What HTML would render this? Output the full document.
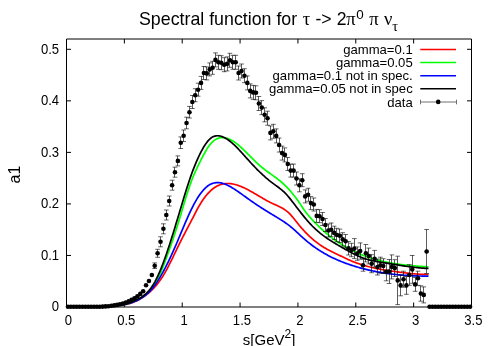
<!DOCTYPE html>
<html><head><meta charset="utf-8"><title>Spectral function</title>
<style>html,body{margin:0;padding:0;background:#fff;overflow:hidden}body{width:494px;height:346px;font-family:"Liberation Sans",sans-serif}</style></head>
<body>
<svg width="494" height="346" viewBox="0 0 494 346" style="display:block;will-change:transform">
<rect width="494" height="346" fill="#fff"/>
<g stroke="#000" stroke-width="1" fill="none">
<path d="M66.5,39.0 H471.5 V307.0 H66.5 Z"/>
<path d="M66.50,307.0 v-4.5 M66.50,39.0 v4.5"/>
<path d="M124.36,307.0 v-4.5 M124.36,39.0 v4.5"/>
<path d="M182.21,307.0 v-4.5 M182.21,39.0 v4.5"/>
<path d="M240.07,307.0 v-4.5 M240.07,39.0 v4.5"/>
<path d="M297.93,307.0 v-4.5 M297.93,39.0 v4.5"/>
<path d="M355.79,307.0 v-4.5 M355.79,39.0 v4.5"/>
<path d="M413.64,307.0 v-4.5 M413.64,39.0 v4.5"/>
<path d="M471.50,307.0 v-4.5 M471.50,39.0 v4.5"/>
<path d="M66.5,307.00 h4.5 M471.5,307.00 h-4.5"/>
<path d="M66.5,255.46 h4.5 M471.5,255.46 h-4.5"/>
<path d="M66.5,203.92 h4.5 M471.5,203.92 h-4.5"/>
<path d="M66.5,152.38 h4.5 M471.5,152.38 h-4.5"/>
<path d="M66.5,100.85 h4.5 M471.5,100.85 h-4.5"/>
<path d="M66.5,49.31 h4.5 M471.5,49.31 h-4.5"/>
</g>
<g fill="none" stroke-width="1.7" stroke-linejoin="round" stroke-linecap="butt">
<path stroke="#ff0000" d="M100.00,306.62 L101.00,306.58 L102.00,306.55 L103.00,306.52 L104.00,306.49 L105.00,306.46 L106.00,306.43 L107.00,306.40 L108.00,306.37 L109.00,306.33 L110.00,306.29 L111.00,306.25 L112.00,306.20 L113.00,306.14 L114.00,306.08 L115.00,306.01 L116.00,305.93 L117.00,305.84 L118.00,305.74 L119.00,305.62 L120.00,305.50 L121.00,305.36 L122.00,305.21 L123.00,305.04 L124.00,304.86 L125.00,304.66 L126.00,304.45 L127.00,304.21 L128.00,303.96 L129.00,303.68 L130.00,303.39 L131.00,303.07 L132.00,302.73 L133.00,302.37 L134.00,301.99 L135.00,301.57 L136.00,301.14 L137.00,300.67 L138.00,300.18 L139.00,299.66 L140.00,299.11 L141.00,298.53 L142.00,297.92 L143.00,297.28 L144.00,296.61 L145.00,295.90 L146.00,295.15 L147.00,294.38 L148.00,293.56 L149.00,292.71 L150.00,291.82 L151.00,290.89 L152.00,289.92 L153.00,288.91 L154.00,287.86 L155.00,286.75 L156.00,285.60 L157.00,284.40 L158.00,283.14 L159.00,281.82 L160.00,280.45 L161.00,279.02 L162.00,277.53 L163.00,275.97 L164.00,274.35 L165.00,272.65 L166.00,270.89 L167.00,269.06 L168.00,267.17 L169.00,265.23 L170.00,263.24 L171.00,261.21 L172.00,259.16 L173.00,257.08 L174.00,254.99 L175.00,252.90 L176.00,250.80 L177.00,248.72 L178.00,246.65 L179.00,244.61 L180.00,242.59 L181.00,240.60 L182.00,238.64 L183.00,236.69 L184.00,234.75 L185.00,232.83 L186.00,230.92 L187.00,229.02 L188.00,227.12 L189.00,225.21 L190.00,223.30 L191.00,221.39 L192.00,219.46 L193.00,217.52 L194.00,215.56 L195.00,213.60 L196.00,211.66 L197.00,209.75 L198.00,207.92 L199.00,206.15 L200.00,204.46 L201.00,202.83 L202.00,201.28 L203.00,199.79 L204.00,198.37 L205.00,197.03 L206.00,195.75 L207.00,194.54 L208.00,193.40 L209.00,192.32 L210.00,191.32 L211.00,190.38 L212.00,189.51 L213.00,188.70 L214.00,187.96 L215.00,187.28 L216.00,186.67 L217.00,186.11 L218.00,185.61 L219.00,185.17 L220.00,184.79 L221.00,184.46 L222.00,184.17 L223.00,183.94 L224.00,183.76 L225.00,183.63 L226.00,183.54 L227.00,183.49 L228.00,183.48 L229.00,183.52 L230.00,183.59 L231.00,183.70 L232.00,183.85 L233.00,184.03 L234.00,184.24 L235.00,184.49 L236.00,184.76 L237.00,185.06 L238.00,185.38 L239.00,185.73 L240.00,186.11 L241.00,186.50 L242.00,186.92 L243.00,187.36 L244.00,187.82 L245.00,188.29 L246.00,188.78 L247.00,189.29 L248.00,189.81 L249.00,190.34 L250.00,190.89 L251.00,191.44 L252.00,192.01 L253.00,192.58 L254.00,193.16 L255.00,193.74 L256.00,194.33 L257.00,194.92 L258.00,195.51 L259.00,196.10 L260.00,196.69 L261.00,197.28 L262.00,197.86 L263.00,198.44 L264.00,199.02 L265.00,199.58 L266.00,200.14 L267.00,200.69 L268.00,201.23 L269.00,201.75 L270.00,202.27 L271.00,202.76 L272.00,203.24 L273.00,203.71 L274.00,204.16 L275.00,204.61 L276.00,205.05 L277.00,205.50 L278.00,205.96 L279.00,206.43 L280.00,206.92 L281.00,207.44 L282.00,207.98 L283.00,208.57 L284.00,209.19 L285.00,209.87 L286.00,210.59 L287.00,211.37 L288.00,212.22 L289.00,213.13 L290.00,214.12 L291.00,215.19 L292.00,216.32 L293.00,217.50 L294.00,218.73 L295.00,219.98 L296.00,221.25 L297.00,222.52 L298.00,223.78 L299.00,225.01 L300.00,226.22 L301.00,227.39 L302.00,228.54 L303.00,229.67 L304.00,230.76 L305.00,231.83 L306.00,232.88 L307.00,233.89 L308.00,234.88 L309.00,235.85 L310.00,236.79 L311.00,237.70 L312.00,238.59 L313.00,239.46 L314.00,240.30 L315.00,241.11 L316.00,241.90 L317.00,242.67 L318.00,243.42 L319.00,244.14 L320.00,244.84 L321.00,245.51 L322.00,246.17 L323.00,246.80 L324.00,247.41 L325.00,248.01 L326.00,248.59 L327.00,249.15 L328.00,249.69 L329.00,250.23 L330.00,250.75 L331.00,251.26 L332.00,251.77 L333.00,252.26 L334.00,252.75 L335.00,253.23 L336.00,253.72 L337.00,254.19 L338.00,254.67 L339.00,255.15 L340.00,255.63 L341.00,256.11 L342.00,256.59 L343.00,257.07 L344.00,257.55 L345.00,258.03 L346.00,258.51 L347.00,258.98 L348.00,259.44 L349.00,259.89 L350.00,260.33 L351.00,260.76 L352.00,261.18 L353.00,261.59 L354.00,261.99 L355.00,262.37 L356.00,262.75 L357.00,263.11 L358.00,263.47 L359.00,263.82 L360.00,264.15 L361.00,264.48 L362.00,264.79 L363.00,265.10 L364.00,265.40 L365.00,265.69 L366.00,265.98 L367.00,266.25 L368.00,266.52 L369.00,266.78 L370.00,267.03 L371.00,267.27 L372.00,267.51 L373.00,267.74 L374.00,267.96 L375.00,268.18 L376.00,268.39 L377.00,268.60 L378.00,268.80 L379.00,268.99 L380.00,269.18 L381.00,269.36 L382.00,269.54 L383.00,269.72 L384.00,269.89 L385.00,270.06 L386.00,270.22 L387.00,270.38 L388.00,270.53 L389.00,270.69 L390.00,270.84 L391.00,270.98 L392.00,271.13 L393.00,271.27 L394.00,271.41 L395.00,271.55 L396.00,271.68 L397.00,271.82 L398.00,271.95 L399.00,272.08 L400.00,272.22 L401.00,272.35 L402.00,272.48 L403.00,272.60 L404.00,272.73 L405.00,272.85 L406.00,272.97 L407.00,273.09 L408.00,273.21 L409.00,273.32 L410.00,273.43 L411.00,273.53 L412.00,273.63 L413.00,273.73 L414.00,273.82 L415.00,273.91 L416.00,273.99 L417.00,274.07 L418.00,274.14 L419.00,274.20 L420.00,274.26 L421.00,274.31 L422.00,274.36 L423.00,274.40 L424.00,274.43 L425.00,274.46 L426.00,274.48 L427.00,274.49 L428.00,274.49 L428.50,274.49"/>
<path stroke="#00ff00" d="M100.00,306.59 L101.00,306.61 L102.00,306.62 L103.00,306.63 L104.00,306.63 L105.00,306.63 L106.00,306.62 L107.00,306.60 L108.00,306.57 L109.00,306.54 L110.00,306.49 L111.00,306.44 L112.00,306.38 L113.00,306.31 L114.00,306.22 L115.00,306.13 L116.00,306.02 L117.00,305.90 L118.00,305.77 L119.00,305.63 L120.00,305.47 L121.00,305.30 L122.00,305.11 L123.00,304.91 L124.00,304.69 L125.00,304.46 L126.00,304.21 L127.00,303.94 L128.00,303.65 L129.00,303.35 L130.00,303.03 L131.00,302.69 L132.00,302.33 L133.00,301.95 L134.00,301.55 L135.00,301.13 L136.00,300.69 L137.00,300.22 L138.00,299.74 L139.00,299.23 L140.00,298.68 L141.00,298.11 L142.00,297.50 L143.00,296.84 L144.00,296.13 L145.00,295.37 L146.00,294.54 L147.00,293.65 L148.00,292.70 L149.00,291.66 L150.00,290.55 L151.00,289.35 L152.00,288.06 L153.00,286.68 L154.00,285.19 L155.00,283.60 L156.00,281.90 L157.00,280.09 L158.00,278.17 L159.00,276.15 L160.00,274.02 L161.00,271.78 L162.00,269.44 L163.00,267.00 L164.00,264.45 L165.00,261.79 L166.00,259.06 L167.00,256.30 L168.00,253.52 L169.00,250.71 L170.00,247.89 L171.00,245.03 L172.00,242.14 L173.00,239.21 L174.00,236.23 L175.00,233.20 L176.00,230.11 L177.00,226.97 L178.00,223.77 L179.00,220.52 L180.00,217.22 L181.00,213.90 L182.00,210.55 L183.00,207.19 L184.00,203.84 L185.00,200.52 L186.00,197.25 L187.00,194.04 L188.00,190.90 L189.00,187.87 L190.00,184.94 L191.00,182.15 L192.00,179.51 L193.00,177.00 L194.00,174.62 L195.00,172.35 L196.00,170.16 L197.00,168.03 L198.00,165.95 L199.00,163.89 L200.00,161.85 L201.00,159.83 L202.00,157.86 L203.00,155.92 L204.00,154.05 L205.00,152.24 L206.00,150.51 L207.00,148.87 L208.00,147.34 L209.00,145.91 L210.00,144.60 L211.00,143.43 L212.00,142.37 L213.00,141.43 L214.00,140.60 L215.00,139.89 L216.00,139.28 L217.00,138.76 L218.00,138.34 L219.00,138.02 L220.00,137.78 L221.00,137.62 L222.00,137.54 L223.00,137.54 L224.00,137.61 L225.00,137.75 L226.00,137.96 L227.00,138.23 L228.00,138.56 L229.00,138.96 L230.00,139.41 L231.00,139.91 L232.00,140.47 L233.00,141.07 L234.00,141.72 L235.00,142.42 L236.00,143.15 L237.00,143.92 L238.00,144.73 L239.00,145.57 L240.00,146.43 L241.00,147.33 L242.00,148.25 L243.00,149.19 L244.00,150.14 L245.00,151.12 L246.00,152.10 L247.00,153.10 L248.00,154.11 L249.00,155.12 L250.00,156.13 L251.00,157.14 L252.00,158.15 L253.00,159.15 L254.00,160.14 L255.00,161.12 L256.00,162.09 L257.00,163.04 L258.00,163.97 L259.00,164.88 L260.00,165.76 L261.00,166.62 L262.00,167.45 L263.00,168.25 L264.00,169.04 L265.00,169.81 L266.00,170.56 L267.00,171.30 L268.00,172.02 L269.00,172.74 L270.00,173.46 L271.00,174.17 L272.00,174.88 L273.00,175.60 L274.00,176.32 L275.00,177.05 L276.00,177.79 L277.00,178.54 L278.00,179.31 L279.00,180.10 L280.00,180.91 L281.00,181.74 L282.00,182.61 L283.00,183.50 L284.00,184.42 L285.00,185.37 L286.00,186.36 L287.00,187.38 L288.00,188.43 L289.00,189.52 L290.00,190.64 L291.00,191.79 L292.00,192.97 L293.00,194.19 L294.00,195.44 L295.00,196.72 L296.00,198.03 L297.00,199.38 L298.00,200.76 L299.00,202.18 L300.00,203.64 L301.00,205.14 L302.00,206.68 L303.00,208.21 L304.00,209.69 L305.00,211.10 L306.00,212.44 L307.00,213.72 L308.00,214.95 L309.00,216.13 L310.00,217.28 L311.00,218.40 L312.00,219.50 L313.00,220.58 L314.00,221.65 L315.00,222.69 L316.00,223.72 L317.00,224.73 L318.00,225.72 L319.00,226.69 L320.00,227.64 L321.00,228.58 L322.00,229.50 L323.00,230.41 L324.00,231.29 L325.00,232.16 L326.00,233.02 L327.00,233.86 L328.00,234.68 L329.00,235.49 L330.00,236.28 L331.00,237.06 L332.00,237.83 L333.00,238.57 L334.00,239.31 L335.00,240.03 L336.00,240.74 L337.00,241.43 L338.00,242.11 L339.00,242.78 L340.00,243.43 L341.00,244.07 L342.00,244.70 L343.00,245.32 L344.00,245.92 L345.00,246.51 L346.00,247.09 L347.00,247.66 L348.00,248.21 L349.00,248.76 L350.00,249.29 L351.00,249.81 L352.00,250.32 L353.00,250.82 L354.00,251.31 L355.00,251.79 L356.00,252.26 L357.00,252.71 L358.00,253.16 L359.00,253.59 L360.00,254.02 L361.00,254.44 L362.00,254.84 L363.00,255.24 L364.00,255.63 L365.00,256.00 L366.00,256.37 L367.00,256.73 L368.00,257.08 L369.00,257.42 L370.00,257.76 L371.00,258.08 L372.00,258.39 L373.00,258.70 L374.00,259.00 L375.00,259.29 L376.00,259.58 L377.00,259.85 L378.00,260.12 L379.00,260.38 L380.00,260.63 L381.00,260.88 L382.00,261.12 L383.00,261.35 L384.00,261.57 L385.00,261.79 L386.00,262.00 L387.00,262.21 L388.00,262.41 L389.00,262.60 L390.00,262.79 L391.00,262.97 L392.00,263.15 L393.00,263.32 L394.00,263.48 L395.00,263.64 L396.00,263.80 L397.00,263.95 L398.00,264.09 L399.00,264.23 L400.00,264.36 L401.00,264.50 L402.00,264.62 L403.00,264.74 L404.00,264.86 L405.00,264.98 L406.00,265.09 L407.00,265.19 L408.00,265.30 L409.00,265.40 L410.00,265.49 L411.00,265.59 L412.00,265.68 L413.00,265.77 L414.00,265.85 L415.00,265.93 L416.00,266.01 L417.00,266.09 L418.00,266.17 L419.00,266.24 L420.00,266.32 L421.00,266.39 L422.00,266.45 L423.00,266.52 L424.00,266.59 L425.00,266.65 L426.00,266.72 L427.00,266.78 L428.00,266.84 L428.50,266.87"/>
<path stroke="#0000ff" d="M100.00,306.60 L101.00,306.61 L102.00,306.61 L103.00,306.61 L104.00,306.60 L105.00,306.59 L106.00,306.58 L107.00,306.55 L108.00,306.52 L109.00,306.48 L110.00,306.44 L111.00,306.39 L112.00,306.32 L113.00,306.25 L114.00,306.17 L115.00,306.08 L116.00,305.98 L117.00,305.86 L118.00,305.74 L119.00,305.60 L120.00,305.45 L121.00,305.29 L122.00,305.11 L123.00,304.92 L124.00,304.71 L125.00,304.49 L126.00,304.25 L127.00,304.00 L128.00,303.73 L129.00,303.44 L130.00,303.14 L131.00,302.82 L132.00,302.47 L133.00,302.11 L134.00,301.73 L135.00,301.32 L136.00,300.88 L137.00,300.42 L138.00,299.93 L139.00,299.40 L140.00,298.85 L141.00,298.26 L142.00,297.63 L143.00,296.97 L144.00,296.27 L145.00,295.53 L146.00,294.75 L147.00,293.91 L148.00,293.03 L149.00,292.09 L150.00,291.08 L151.00,290.00 L152.00,288.85 L153.00,287.63 L154.00,286.35 L155.00,285.01 L156.00,283.60 L157.00,282.13 L158.00,280.60 L159.00,279.01 L160.00,277.37 L161.00,275.67 L162.00,273.92 L163.00,272.12 L164.00,270.27 L165.00,268.37 L166.00,266.43 L167.00,264.44 L168.00,262.41 L169.00,260.34 L170.00,258.22 L171.00,256.07 L172.00,253.89 L173.00,251.67 L174.00,249.41 L175.00,247.13 L176.00,244.81 L177.00,242.47 L178.00,240.10 L179.00,237.72 L180.00,235.33 L181.00,232.94 L182.00,230.55 L183.00,228.17 L184.00,225.80 L185.00,223.45 L186.00,221.12 L187.00,218.83 L188.00,216.58 L189.00,214.37 L190.00,212.21 L191.00,210.10 L192.00,208.06 L193.00,206.09 L194.00,204.18 L195.00,202.35 L196.00,200.59 L197.00,198.91 L198.00,197.30 L199.00,195.77 L200.00,194.32 L201.00,192.95 L202.00,191.67 L203.00,190.47 L204.00,189.35 L205.00,188.32 L206.00,187.38 L207.00,186.53 L208.00,185.77 L209.00,185.10 L210.00,184.52 L211.00,184.02 L212.00,183.60 L213.00,183.26 L214.00,182.99 L215.00,182.79 L216.00,182.66 L217.00,182.60 L218.00,182.60 L219.00,182.66 L220.00,182.78 L221.00,182.95 L222.00,183.18 L223.00,183.45 L224.00,183.77 L225.00,184.14 L226.00,184.54 L227.00,184.98 L228.00,185.46 L229.00,185.97 L230.00,186.51 L231.00,187.08 L232.00,187.67 L233.00,188.28 L234.00,188.90 L235.00,189.55 L236.00,190.21 L237.00,190.88 L238.00,191.56 L239.00,192.25 L240.00,192.95 L241.00,193.66 L242.00,194.38 L243.00,195.10 L244.00,195.82 L245.00,196.54 L246.00,197.27 L247.00,197.99 L248.00,198.71 L249.00,199.42 L250.00,200.14 L251.00,200.84 L252.00,201.54 L253.00,202.23 L254.00,202.91 L255.00,203.59 L256.00,204.26 L257.00,204.93 L258.00,205.59 L259.00,206.24 L260.00,206.89 L261.00,207.54 L262.00,208.18 L263.00,208.82 L264.00,209.45 L265.00,210.08 L266.00,210.70 L267.00,211.32 L268.00,211.94 L269.00,212.55 L270.00,213.16 L271.00,213.77 L272.00,214.37 L273.00,214.97 L274.00,215.57 L275.00,216.17 L276.00,216.77 L277.00,217.38 L278.00,217.99 L279.00,218.61 L280.00,219.23 L281.00,219.86 L282.00,220.50 L283.00,221.16 L284.00,221.83 L285.00,222.51 L286.00,223.21 L287.00,223.93 L288.00,224.66 L289.00,225.42 L290.00,226.20 L291.00,227.00 L292.00,227.82 L293.00,228.67 L294.00,229.54 L295.00,230.43 L296.00,231.34 L297.00,232.27 L298.00,233.20 L299.00,234.15 L300.00,235.09 L301.00,236.02 L302.00,236.94 L303.00,237.85 L304.00,238.73 L305.00,239.60 L306.00,240.46 L307.00,241.29 L308.00,242.11 L309.00,242.91 L310.00,243.70 L311.00,244.47 L312.00,245.23 L313.00,245.97 L314.00,246.69 L315.00,247.40 L316.00,248.10 L317.00,248.78 L318.00,249.45 L319.00,250.10 L320.00,250.74 L321.00,251.36 L322.00,251.97 L323.00,252.57 L324.00,253.16 L325.00,253.73 L326.00,254.30 L327.00,254.85 L328.00,255.39 L329.00,255.91 L330.00,256.43 L331.00,256.93 L332.00,257.43 L333.00,257.91 L334.00,258.38 L335.00,258.84 L336.00,259.30 L337.00,259.74 L338.00,260.17 L339.00,260.60 L340.00,261.02 L341.00,261.42 L342.00,261.82 L343.00,262.21 L344.00,262.60 L345.00,262.97 L346.00,263.34 L347.00,263.70 L348.00,264.06 L349.00,264.41 L350.00,264.75 L351.00,265.08 L352.00,265.41 L353.00,265.73 L354.00,266.05 L355.00,266.36 L356.00,266.67 L357.00,266.97 L358.00,267.26 L359.00,267.55 L360.00,267.83 L361.00,268.11 L362.00,268.38 L363.00,268.64 L364.00,268.90 L365.00,269.16 L366.00,269.41 L367.00,269.65 L368.00,269.89 L369.00,270.12 L370.00,270.35 L371.00,270.57 L372.00,270.79 L373.00,271.00 L374.00,271.20 L375.00,271.41 L376.00,271.60 L377.00,271.79 L378.00,271.98 L379.00,272.16 L380.00,272.34 L381.00,272.51 L382.00,272.68 L383.00,272.84 L384.00,273.00 L385.00,273.15 L386.00,273.30 L387.00,273.45 L388.00,273.59 L389.00,273.72 L390.00,273.86 L391.00,273.98 L392.00,274.11 L393.00,274.22 L394.00,274.34 L395.00,274.45 L396.00,274.56 L397.00,274.66 L398.00,274.76 L399.00,274.85 L400.00,274.94 L401.00,275.03 L402.00,275.11 L403.00,275.19 L404.00,275.27 L405.00,275.34 L406.00,275.40 L407.00,275.47 L408.00,275.53 L409.00,275.59 L410.00,275.64 L411.00,275.69 L412.00,275.74 L413.00,275.78 L414.00,275.82 L415.00,275.86 L416.00,275.90 L417.00,275.93 L418.00,275.95 L419.00,275.98 L420.00,276.00 L421.00,276.02 L422.00,276.04 L423.00,276.05 L424.00,276.06 L425.00,276.07 L426.00,276.07 L427.00,276.08 L428.00,276.08 L428.50,276.08"/>
<path stroke="#000000" d="M100.00,306.59 L101.00,306.61 L102.00,306.62 L103.00,306.63 L104.00,306.62 L105.00,306.62 L106.00,306.60 L107.00,306.57 L108.00,306.54 L109.00,306.50 L110.00,306.44 L111.00,306.38 L112.00,306.30 L113.00,306.22 L114.00,306.12 L115.00,306.01 L116.00,305.89 L117.00,305.75 L118.00,305.61 L119.00,305.44 L120.00,305.27 L121.00,305.08 L122.00,304.87 L123.00,304.65 L124.00,304.41 L125.00,304.15 L126.00,303.88 L127.00,303.59 L128.00,303.28 L129.00,302.95 L130.00,302.61 L131.00,302.24 L132.00,301.85 L133.00,301.45 L134.00,301.02 L135.00,300.57 L136.00,300.10 L137.00,299.61 L138.00,299.09 L139.00,298.55 L140.00,297.98 L141.00,297.37 L142.00,296.72 L143.00,296.02 L144.00,295.27 L145.00,294.45 L146.00,293.57 L147.00,292.61 L148.00,291.57 L149.00,290.45 L150.00,289.24 L151.00,287.93 L152.00,286.52 L153.00,285.00 L154.00,283.36 L155.00,281.60 L156.00,279.72 L157.00,277.72 L158.00,275.60 L159.00,273.38 L160.00,271.05 L161.00,268.62 L162.00,266.10 L163.00,263.49 L164.00,260.80 L165.00,258.03 L166.00,255.19 L167.00,252.28 L168.00,249.30 L169.00,246.27 L170.00,243.19 L171.00,240.05 L172.00,236.88 L173.00,233.66 L174.00,230.42 L175.00,227.14 L176.00,223.85 L177.00,220.53 L178.00,217.21 L179.00,213.88 L180.00,210.54 L181.00,207.21 L182.00,203.89 L183.00,200.58 L184.00,197.28 L185.00,194.02 L186.00,190.79 L187.00,187.61 L188.00,184.49 L189.00,181.45 L190.00,178.48 L191.00,175.61 L192.00,172.83 L193.00,170.15 L194.00,167.57 L195.00,165.08 L196.00,162.68 L197.00,160.36 L198.00,158.13 L199.00,155.99 L200.00,153.92 L201.00,151.94 L202.00,150.05 L203.00,148.25 L204.00,146.55 L205.00,144.97 L206.00,143.49 L207.00,142.14 L208.00,140.90 L209.00,139.80 L210.00,138.84 L211.00,138.02 L212.00,137.34 L213.00,136.79 L214.00,136.36 L215.00,136.06 L216.00,135.86 L217.00,135.76 L218.00,135.77 L219.00,135.86 L220.00,136.03 L221.00,136.29 L222.00,136.60 L223.00,136.99 L224.00,137.44 L225.00,137.94 L226.00,138.51 L227.00,139.12 L228.00,139.79 L229.00,140.51 L230.00,141.27 L231.00,142.08 L232.00,142.92 L233.00,143.81 L234.00,144.73 L235.00,145.68 L236.00,146.66 L237.00,147.66 L238.00,148.69 L239.00,149.74 L240.00,150.81 L241.00,151.90 L242.00,152.99 L243.00,154.10 L244.00,155.21 L245.00,156.33 L246.00,157.45 L247.00,158.57 L248.00,159.69 L249.00,160.80 L250.00,161.90 L251.00,162.99 L252.00,164.06 L253.00,165.13 L254.00,166.19 L255.00,167.23 L256.00,168.26 L257.00,169.28 L258.00,170.28 L259.00,171.27 L260.00,172.25 L261.00,173.21 L262.00,174.15 L263.00,175.08 L264.00,175.99 L265.00,176.89 L266.00,177.77 L267.00,178.63 L268.00,179.47 L269.00,180.29 L270.00,181.10 L271.00,181.88 L272.00,182.65 L273.00,183.39 L274.00,184.12 L275.00,184.85 L276.00,185.57 L277.00,186.29 L278.00,187.03 L279.00,187.78 L280.00,188.55 L281.00,189.35 L282.00,190.19 L283.00,191.06 L284.00,191.97 L285.00,192.94 L286.00,193.96 L287.00,195.05 L288.00,196.19 L289.00,197.38 L290.00,198.61 L291.00,199.88 L292.00,201.17 L293.00,202.47 L294.00,203.78 L295.00,205.09 L296.00,206.40 L297.00,207.71 L298.00,209.01 L299.00,210.31 L300.00,211.60 L301.00,212.88 L302.00,214.15 L303.00,215.40 L304.00,216.64 L305.00,217.86 L306.00,219.06 L307.00,220.24 L308.00,221.39 L309.00,222.52 L310.00,223.62 L311.00,224.69 L312.00,225.73 L313.00,226.74 L314.00,227.72 L315.00,228.67 L316.00,229.59 L317.00,230.49 L318.00,231.36 L319.00,232.21 L320.00,233.04 L321.00,233.84 L322.00,234.62 L323.00,235.38 L324.00,236.12 L325.00,236.85 L326.00,237.56 L327.00,238.25 L328.00,238.93 L329.00,239.59 L330.00,240.24 L331.00,240.88 L332.00,241.51 L333.00,242.13 L334.00,242.74 L335.00,243.34 L336.00,243.94 L337.00,244.53 L338.00,245.12 L339.00,245.70 L340.00,246.29 L341.00,246.87 L342.00,247.45 L343.00,248.02 L344.00,248.60 L345.00,249.17 L346.00,249.73 L347.00,250.29 L348.00,250.85 L349.00,251.39 L350.00,251.93 L351.00,252.47 L352.00,252.99 L353.00,253.50 L354.00,254.01 L355.00,254.50 L356.00,254.98 L357.00,255.45 L358.00,255.91 L359.00,256.35 L360.00,256.78 L361.00,257.19 L362.00,257.59 L363.00,257.97 L364.00,258.33 L365.00,258.68 L366.00,259.00 L367.00,259.31 L368.00,259.60 L369.00,259.87 L370.00,260.13 L371.00,260.37 L372.00,260.60 L373.00,260.82 L374.00,261.02 L375.00,261.22 L376.00,261.41 L377.00,261.59 L378.00,261.76 L379.00,261.93 L380.00,262.10 L381.00,262.26 L382.00,262.42 L383.00,262.59 L384.00,262.75 L385.00,262.91 L386.00,263.08 L387.00,263.24 L388.00,263.41 L389.00,263.57 L390.00,263.74 L391.00,263.90 L392.00,264.07 L393.00,264.23 L394.00,264.39 L395.00,264.55 L396.00,264.71 L397.00,264.87 L398.00,265.03 L399.00,265.19 L400.00,265.34 L401.00,265.50 L402.00,265.65 L403.00,265.80 L404.00,265.94 L405.00,266.09 L406.00,266.23 L407.00,266.37 L408.00,266.51 L409.00,266.64 L410.00,266.77 L411.00,266.90 L412.00,267.03 L413.00,267.15 L414.00,267.27 L415.00,267.38 L416.00,267.49 L417.00,267.60 L418.00,267.70 L419.00,267.80 L420.00,267.89 L421.00,267.98 L422.00,268.06 L423.00,268.14 L424.00,268.22 L425.00,268.28 L426.00,268.35 L427.00,268.41 L428.00,268.46 L428.50,268.48"/>
</g>
<path d="M154.5,262.90 V268.50 M157.5,249.30 V257.30 M160.5,236.80 V246.80 M163.5,223.80 V233.80 M166.5,210.00 V220.00 M169.5,196.00 V206.00 M172.5,180.20 V190.20 M174.5,167.20 V177.20 M177.5,155.90 V165.90 M180.5,136.90 V148.50 M183.5,130.00 V141.60 M186.5,117.20 V128.80 M189.5,106.40 V118.00 M192.5,95.50 V108.50 M195.5,88.70 V101.70 M198.5,83.20 V96.20 M201.5,76.40 V89.40 M203.5,66.50 V79.50 M206.5,66.90 V79.90 M209.5,62.90 V75.90 M212.5,61.30 V74.30 M215.5,52.90 V66.90 M218.5,55.30 V69.30 M221.5,55.70 V69.70 M224.5,57.70 V71.70 M227.5,56.90 V70.90 M229.5,53.30 V67.30 M232.5,55.30 V69.30 M235.5,55.30 V69.30 M238.5,66.00 V80.00 M241.5,64.00 V78.00 M244.5,68.70 V82.70 M247.5,75.90 V89.90 M250.5,83.90 V97.90 M253.5,85.40 V99.40 M255.5,85.80 V99.80 M258.5,96.50 V110.50 M261.5,100.60 V114.60 M264.5,107.80 V121.80 M267.5,111.20 V125.20 M270.5,125.90 V139.90 M273.5,124.30 V138.30 M276.5,128.90 V142.90 M279.5,138.00 V152.00 M282.5,146.10 V160.10 M284.5,147.90 V161.90 M287.5,157.50 V170.50 M290.5,164.10 V177.10 M293.5,164.10 V177.10 M296.5,172.00 V185.00 M299.5,178.80 V191.80 M302.5,173.70 V186.70 M305.5,189.90 V202.90 M308.5,188.30 V201.30 M310.5,196.60 V209.60 M313.5,198.00 V211.00 M316.5,209.40 V222.40 M319.5,209.70 V222.70 M322.5,212.50 V225.50 M325.5,218.50 V231.50 M328.5,224.00 V237.00 M331.5,223.00 V236.40 M334.5,226.20 V239.60 M336.5,228.30 V241.70 M339.5,229.10 V242.50 M342.5,232.70 V246.10 M345.5,234.50 V247.90 M348.5,241.60 V255.00 M351.5,243.30 V256.70 M354.5,238.60 V258.60 M357.5,246.90 V260.30 M360.5,242.90 V259.10 M363.5,259.20 V271.20 M365.5,244.50 V261.90 M368.5,248.10 V263.90 M371.5,254.70 V272.70 M374.5,250.40 V267.00 M377.5,259.00 V275.00 M380.5,257.20 V273.20 M383.5,258.70 V273.30 M386.5,262.80 V280.80 M389.5,259.50 V283.50 M391.5,254.90 V278.90 M394.5,259.70 V276.50 M397.5,256.20 V304.60 M400.5,275.00 V295.80 M403.5,271.20 V287.20 M406.5,276.50 V294.30 M409.5,264.70 V285.30 M412.5,255.50 V283.30 M415.5,277.50 V291.30 M417.5,271.20 V285.40 M420.5,285.80 V301.20 M423.5,286.90 V302.90 M426.5,229.50 V273.50" stroke="#000" stroke-width="1" fill="none" opacity="0.64"/>
<path d="M152.38,262.90 h4.7 M152.38,268.50 h4.7 M155.28,249.30 h4.7 M155.28,257.30 h4.7 M158.17,236.80 h4.7 M158.17,246.80 h4.7 M161.06,223.80 h4.7 M161.06,233.80 h4.7 M163.95,210.00 h4.7 M163.95,220.00 h4.7 M166.85,196.00 h4.7 M166.85,206.00 h4.7 M169.74,180.20 h4.7 M169.74,190.20 h4.7 M172.63,167.20 h4.7 M172.63,177.20 h4.7 M175.53,155.90 h4.7 M175.53,165.90 h4.7 M178.42,136.90 h4.7 M178.42,148.50 h4.7 M181.31,130.00 h4.7 M181.31,141.60 h4.7 M184.20,117.20 h4.7 M184.20,128.80 h4.7 M187.10,106.40 h4.7 M187.10,118.00 h4.7 M189.99,95.50 h4.7 M189.99,108.50 h4.7 M192.88,88.70 h4.7 M192.88,101.70 h4.7 M195.78,83.20 h4.7 M195.78,96.20 h4.7 M198.67,76.40 h4.7 M198.67,89.40 h4.7 M201.56,66.50 h4.7 M201.56,79.50 h4.7 M204.45,66.90 h4.7 M204.45,79.90 h4.7 M207.35,62.90 h4.7 M207.35,75.90 h4.7 M210.24,61.30 h4.7 M210.24,74.30 h4.7 M213.13,52.90 h4.7 M213.13,66.90 h4.7 M216.03,55.30 h4.7 M216.03,69.30 h4.7 M218.92,55.70 h4.7 M218.92,69.70 h4.7 M221.81,57.70 h4.7 M221.81,71.70 h4.7 M224.70,56.90 h4.7 M224.70,70.90 h4.7 M227.60,53.30 h4.7 M227.60,67.30 h4.7 M230.49,55.30 h4.7 M230.49,69.30 h4.7 M233.38,55.30 h4.7 M233.38,69.30 h4.7 M236.28,66.00 h4.7 M236.28,80.00 h4.7 M239.17,64.00 h4.7 M239.17,78.00 h4.7 M242.06,68.70 h4.7 M242.06,82.70 h4.7 M244.95,75.90 h4.7 M244.95,89.90 h4.7 M247.85,83.90 h4.7 M247.85,97.90 h4.7 M250.74,85.40 h4.7 M250.74,99.40 h4.7 M253.63,85.80 h4.7 M253.63,99.80 h4.7 M256.52,96.50 h4.7 M256.52,110.50 h4.7 M259.42,100.60 h4.7 M259.42,114.60 h4.7 M262.31,107.80 h4.7 M262.31,121.80 h4.7 M265.20,111.20 h4.7 M265.20,125.20 h4.7 M268.10,125.90 h4.7 M268.10,139.90 h4.7 M270.99,124.30 h4.7 M270.99,138.30 h4.7 M273.88,128.90 h4.7 M273.88,142.90 h4.7 M276.77,138.00 h4.7 M276.77,152.00 h4.7 M279.67,146.10 h4.7 M279.67,160.10 h4.7 M282.56,147.90 h4.7 M282.56,161.90 h4.7 M285.45,157.50 h4.7 M285.45,170.50 h4.7 M288.35,164.10 h4.7 M288.35,177.10 h4.7 M291.24,164.10 h4.7 M291.24,177.10 h4.7 M294.13,172.00 h4.7 M294.13,185.00 h4.7 M297.02,178.80 h4.7 M297.02,191.80 h4.7 M299.92,173.70 h4.7 M299.92,186.70 h4.7 M302.81,189.90 h4.7 M302.81,202.90 h4.7 M305.70,188.30 h4.7 M305.70,201.30 h4.7 M308.60,196.60 h4.7 M308.60,209.60 h4.7 M311.49,198.00 h4.7 M311.49,211.00 h4.7 M314.38,209.40 h4.7 M314.38,222.40 h4.7 M317.27,209.70 h4.7 M317.27,222.70 h4.7 M320.17,212.50 h4.7 M320.17,225.50 h4.7 M323.06,218.50 h4.7 M323.06,231.50 h4.7 M325.95,224.00 h4.7 M325.95,237.00 h4.7 M328.85,223.00 h4.7 M328.85,236.40 h4.7 M331.74,226.20 h4.7 M331.74,239.60 h4.7 M334.63,228.30 h4.7 M334.63,241.70 h4.7 M337.52,229.10 h4.7 M337.52,242.50 h4.7 M340.42,232.70 h4.7 M340.42,246.10 h4.7 M343.31,234.50 h4.7 M343.31,247.90 h4.7 M346.20,241.60 h4.7 M346.20,255.00 h4.7 M349.10,243.30 h4.7 M349.10,256.70 h4.7 M351.99,238.60 h4.7 M351.99,258.60 h4.7 M354.88,246.90 h4.7 M354.88,260.30 h4.7 M357.78,242.90 h4.7 M357.78,259.10 h4.7 M360.67,259.20 h4.7 M360.67,271.20 h4.7 M363.56,244.50 h4.7 M363.56,261.90 h4.7 M366.45,248.10 h4.7 M366.45,263.90 h4.7 M369.35,254.70 h4.7 M369.35,272.70 h4.7 M372.24,250.40 h4.7 M372.24,267.00 h4.7 M375.13,259.00 h4.7 M375.13,275.00 h4.7 M378.02,257.20 h4.7 M378.02,273.20 h4.7 M380.92,258.70 h4.7 M380.92,273.30 h4.7 M383.81,262.80 h4.7 M383.81,280.80 h4.7 M386.70,259.50 h4.7 M386.70,283.50 h4.7 M389.60,254.90 h4.7 M389.60,278.90 h4.7 M392.49,259.70 h4.7 M392.49,276.50 h4.7 M395.38,256.20 h4.7 M395.38,304.60 h4.7 M398.27,275.00 h4.7 M398.27,295.80 h4.7 M401.17,271.20 h4.7 M401.17,287.20 h4.7 M404.06,276.50 h4.7 M404.06,294.30 h4.7 M406.95,264.70 h4.7 M406.95,285.30 h4.7 M409.85,255.50 h4.7 M409.85,283.30 h4.7 M412.74,277.50 h4.7 M412.74,291.30 h4.7 M415.63,271.20 h4.7 M415.63,285.40 h4.7 M418.53,285.80 h4.7 M418.53,301.20 h4.7 M421.42,286.90 h4.7 M421.42,302.90 h4.7 M424.31,229.50 h4.7 M424.31,273.50 h4.7" stroke="#000" stroke-width="1" fill="none" opacity="0.6"/>
<g fill="#000"><circle cx="67.95" cy="306.80" r="2.3"/><circle cx="70.84" cy="306.80" r="2.3"/><circle cx="73.73" cy="306.80" r="2.3"/><circle cx="76.62" cy="306.80" r="2.3"/><circle cx="79.52" cy="306.80" r="2.3"/><circle cx="82.41" cy="306.80" r="2.3"/><circle cx="85.30" cy="306.80" r="2.3"/><circle cx="88.20" cy="306.80" r="2.3"/><circle cx="91.09" cy="306.80" r="2.3"/><circle cx="93.98" cy="306.80" r="2.3"/><circle cx="96.88" cy="306.80" r="2.3"/><circle cx="99.77" cy="306.80" r="2.3"/><circle cx="102.66" cy="306.60" r="2.3"/><circle cx="105.55" cy="306.40" r="2.3"/><circle cx="108.45" cy="306.20" r="2.3"/><circle cx="111.34" cy="305.80" r="2.3"/><circle cx="114.23" cy="305.40" r="2.3"/><circle cx="117.12" cy="304.90" r="2.3"/><circle cx="120.02" cy="304.30" r="2.3"/><circle cx="122.91" cy="303.50" r="2.3"/><circle cx="125.80" cy="302.50" r="2.3"/><circle cx="128.70" cy="301.30" r="2.3"/><circle cx="131.59" cy="299.90" r="2.3"/><circle cx="134.48" cy="298.30" r="2.3"/><circle cx="137.38" cy="296.20" r="2.3"/><circle cx="140.27" cy="293.90" r="2.3"/><circle cx="143.16" cy="291.20" r="2.3"/><circle cx="146.05" cy="285.30" r="2.3"/><circle cx="148.95" cy="281.00" r="2.3"/><circle cx="151.84" cy="275.00" r="2.3"/><circle cx="154.73" cy="265.70" r="2.3"/><circle cx="157.62" cy="253.30" r="2.3"/><circle cx="160.52" cy="241.80" r="2.3"/><circle cx="163.41" cy="228.80" r="2.3"/><circle cx="166.30" cy="215.00" r="2.3"/><circle cx="169.20" cy="201.00" r="2.3"/><circle cx="172.09" cy="185.20" r="2.3"/><circle cx="174.98" cy="172.20" r="2.3"/><circle cx="177.88" cy="160.90" r="2.3"/><circle cx="180.77" cy="142.70" r="2.3"/><circle cx="183.66" cy="135.80" r="2.3"/><circle cx="186.55" cy="123.00" r="2.3"/><circle cx="189.45" cy="112.20" r="2.3"/><circle cx="192.34" cy="102.00" r="2.3"/><circle cx="195.23" cy="95.20" r="2.3"/><circle cx="198.12" cy="89.70" r="2.3"/><circle cx="201.02" cy="82.90" r="2.3"/><circle cx="203.91" cy="73.00" r="2.3"/><circle cx="206.80" cy="73.40" r="2.3"/><circle cx="209.70" cy="69.40" r="2.3"/><circle cx="212.59" cy="67.80" r="2.3"/><circle cx="215.48" cy="59.90" r="2.3"/><circle cx="218.38" cy="62.30" r="2.3"/><circle cx="221.27" cy="62.70" r="2.3"/><circle cx="224.16" cy="64.70" r="2.3"/><circle cx="227.05" cy="63.90" r="2.3"/><circle cx="229.95" cy="60.30" r="2.3"/><circle cx="232.84" cy="62.30" r="2.3"/><circle cx="235.73" cy="62.30" r="2.3"/><circle cx="238.62" cy="73.00" r="2.3"/><circle cx="241.52" cy="71.00" r="2.3"/><circle cx="244.41" cy="75.70" r="2.3"/><circle cx="247.30" cy="82.90" r="2.3"/><circle cx="250.20" cy="90.90" r="2.3"/><circle cx="253.09" cy="92.40" r="2.3"/><circle cx="255.98" cy="92.80" r="2.3"/><circle cx="258.88" cy="103.50" r="2.3"/><circle cx="261.77" cy="107.60" r="2.3"/><circle cx="264.66" cy="114.80" r="2.3"/><circle cx="267.55" cy="118.20" r="2.3"/><circle cx="270.45" cy="132.90" r="2.3"/><circle cx="273.34" cy="131.30" r="2.3"/><circle cx="276.23" cy="135.90" r="2.3"/><circle cx="279.12" cy="145.00" r="2.3"/><circle cx="282.02" cy="153.10" r="2.3"/><circle cx="284.91" cy="154.90" r="2.3"/><circle cx="287.80" cy="164.00" r="2.3"/><circle cx="290.70" cy="170.60" r="2.3"/><circle cx="293.59" cy="170.60" r="2.3"/><circle cx="296.48" cy="178.50" r="2.3"/><circle cx="299.38" cy="185.30" r="2.3"/><circle cx="302.27" cy="180.20" r="2.3"/><circle cx="305.16" cy="196.40" r="2.3"/><circle cx="308.05" cy="194.80" r="2.3"/><circle cx="310.95" cy="203.10" r="2.3"/><circle cx="313.84" cy="204.50" r="2.3"/><circle cx="316.73" cy="215.90" r="2.3"/><circle cx="319.62" cy="216.20" r="2.3"/><circle cx="322.52" cy="219.00" r="2.3"/><circle cx="325.41" cy="225.00" r="2.3"/><circle cx="328.30" cy="230.50" r="2.3"/><circle cx="331.20" cy="229.70" r="2.3"/><circle cx="334.09" cy="232.90" r="2.3"/><circle cx="336.98" cy="235.00" r="2.3"/><circle cx="339.88" cy="235.80" r="2.3"/><circle cx="342.77" cy="239.40" r="2.3"/><circle cx="345.66" cy="241.20" r="2.3"/><circle cx="348.55" cy="248.30" r="2.3"/><circle cx="351.45" cy="250.00" r="2.3"/><circle cx="354.34" cy="248.60" r="2.3"/><circle cx="357.23" cy="253.60" r="2.3"/><circle cx="360.13" cy="251.00" r="2.3"/><circle cx="363.02" cy="265.20" r="2.3"/><circle cx="365.91" cy="253.20" r="2.3"/><circle cx="368.80" cy="256.00" r="2.3"/><circle cx="371.70" cy="263.70" r="2.3"/><circle cx="374.59" cy="258.70" r="2.3"/><circle cx="377.48" cy="267.00" r="2.3"/><circle cx="380.38" cy="265.20" r="2.3"/><circle cx="383.27" cy="266.00" r="2.3"/><circle cx="386.16" cy="271.80" r="2.3"/><circle cx="389.05" cy="271.50" r="2.3"/><circle cx="391.95" cy="266.90" r="2.3"/><circle cx="394.84" cy="268.10" r="2.3"/><circle cx="397.73" cy="280.40" r="2.3"/><circle cx="400.62" cy="285.40" r="2.3"/><circle cx="403.52" cy="279.20" r="2.3"/><circle cx="406.41" cy="285.40" r="2.3"/><circle cx="409.30" cy="275.00" r="2.3"/><circle cx="412.20" cy="269.40" r="2.3"/><circle cx="415.09" cy="284.40" r="2.3"/><circle cx="417.98" cy="278.30" r="2.3"/><circle cx="420.88" cy="293.50" r="2.3"/><circle cx="423.77" cy="294.90" r="2.3"/><circle cx="426.66" cy="251.50" r="2.3"/><circle cx="429.55" cy="306.80" r="2.3"/><circle cx="432.45" cy="306.80" r="2.3"/><circle cx="435.34" cy="306.80" r="2.3"/><circle cx="438.23" cy="306.80" r="2.3"/><circle cx="441.12" cy="306.80" r="2.3"/><circle cx="444.02" cy="306.80" r="2.3"/><circle cx="446.91" cy="306.80" r="2.3"/><circle cx="449.80" cy="306.80" r="2.3"/><circle cx="452.70" cy="306.80" r="2.3"/><circle cx="455.59" cy="306.80" r="2.3"/><circle cx="458.48" cy="306.80" r="2.3"/><circle cx="461.38" cy="306.80" r="2.3"/><circle cx="464.27" cy="306.80" r="2.3"/><circle cx="467.16" cy="306.80" r="2.3"/><circle cx="470.05" cy="306.80" r="2.3"/></g>
<path d="M420.3,49.5 H456" stroke="#ff0000" stroke-width="1.5"/>
<path d="M420.3,62.6 H456" stroke="#00ff00" stroke-width="1.5"/>
<path d="M420.3,75.7 H456" stroke="#0000ff" stroke-width="1.5"/>
<path d="M420.3,88.8 H456" stroke="#000000" stroke-width="1.5"/>
<path d="M420.3,102 H456 M420.5,99.7 v4.6 M456.5,99.7 v4.6" stroke="#000" stroke-width="1" opacity="0.56"/>
<circle cx="438.2" cy="101.9" r="2.3" fill="#000"/>
<g font-family="'Liberation Sans', sans-serif" font-size="13.1px" fill="#000">
<text x="412.7" y="54.1" text-anchor="end">gamma=0.1</text>
<text x="412.7" y="67.2" text-anchor="end">gamma=0.05</text>
<text x="412.7" y="80.3" text-anchor="end">gamma=0.1 not in spec.</text>
<text x="412.7" y="93.4" text-anchor="end">gamma=0.05 not in spec</text>
<text x="412.7" y="106.5" text-anchor="end">data</text>
<text transform="translate(59.1,311.35) scale(1,1.05)" text-anchor="end">0</text>
<text transform="translate(59.1,259.81) scale(1,1.05)" text-anchor="end">0.1</text>
<text transform="translate(59.1,208.27) scale(1,1.05)" text-anchor="end">0.2</text>
<text transform="translate(59.1,156.73) scale(1,1.05)" text-anchor="end">0.3</text>
<text transform="translate(59.1,105.20) scale(1,1.05)" text-anchor="end">0.4</text>
<text transform="translate(59.1,53.66) scale(1,1.05)" text-anchor="end">0.5</text>
<text transform="translate(68.40,324.6) scale(1,1.05)" text-anchor="middle">0</text>
<text transform="translate(126.26,324.6) scale(1,1.05)" text-anchor="middle">0.5</text>
<text transform="translate(184.11,324.6) scale(1,1.05)" text-anchor="middle">1</text>
<text transform="translate(241.97,324.6) scale(1,1.05)" text-anchor="middle">1.5</text>
<text transform="translate(299.83,324.6) scale(1,1.05)" text-anchor="middle">2</text>
<text transform="translate(357.69,324.6) scale(1,1.05)" text-anchor="middle">2.5</text>
<text transform="translate(415.54,324.6) scale(1,1.05)" text-anchor="middle">3</text>
<text transform="translate(473.40,324.6) scale(1,1.05)" text-anchor="middle">3.5</text>
</g>
<g font-family="'Liberation Sans', sans-serif" fill="#000">
<text font-size="16px" transform="translate(19.7,174.5) rotate(-90)" text-anchor="middle">a1</text>
<text font-size="15px" x="242.8" y="345.4">s[GeV<tspan font-size="12px" dy="-7.4">2</tspan><tspan dy="7.4">]</tspan></text>
<text font-size="17.8px" x="139" y="25.3">Spectral function for</text>
<text font-size="18.6px" x="302.8" y="25.3" font-family="'Liberation Serif', serif">τ</text>
<text font-size="17.6px" x="315.5" y="25.3">-&gt;</text>
<text font-size="17.6px" x="336.8" y="25.3">2</text>
<text font-size="18.6px" x="346.3" y="25.3" font-family="'Liberation Serif', serif">π</text>
<text font-size="13.4px" x="356.3" y="18.7">0</text>
<text font-size="18.6px" x="369.2" y="25.3" font-family="'Liberation Serif', serif">π</text>
<text font-size="18.6px" x="383.9" y="25.3" font-family="'Liberation Serif', serif">ν</text>
<text font-size="14.5px" x="392.2" y="30.6" font-family="'Liberation Serif', serif">τ</text>
</g>
</svg>
</body></html>
